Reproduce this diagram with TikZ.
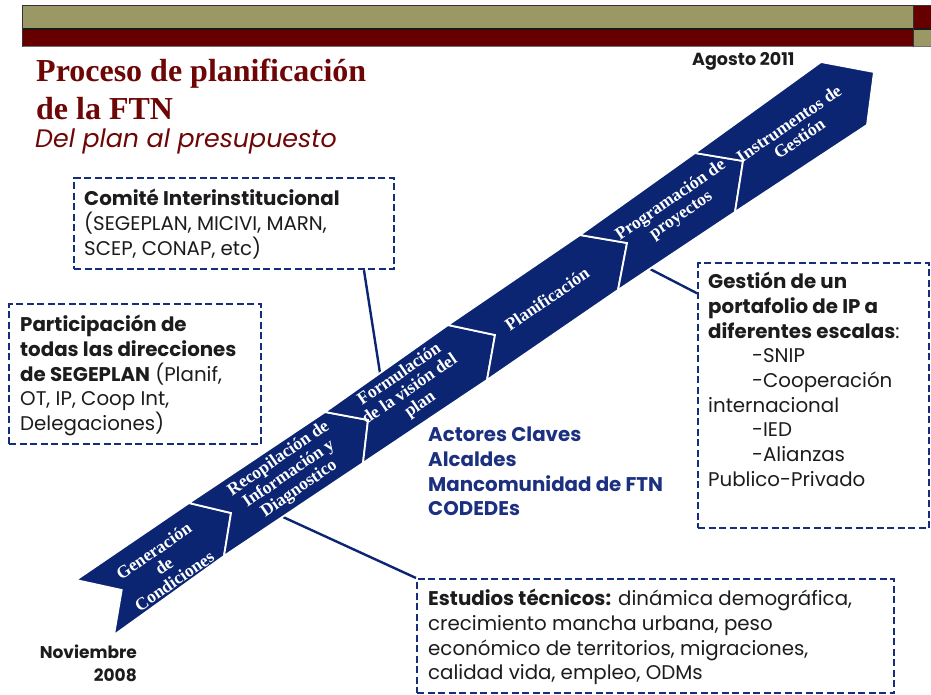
\documentclass[tikz,border=0pt]{standalone}
\usepackage{fontspec}
\setmainfont{Liberation Serif}
\newfontfamily\gothic{Poppins}
\usetikzlibrary{calc}
\definecolor{navy}{RGB}{11,37,115}
\definecolor{boxnavy}{RGB}{20,45,125}
\definecolor{actnavy}{RGB}{28,48,128}
\definecolor{titlered}{RGB}{110,6,6}
\definecolor{olivebar}{RGB}{154,153,102}
\definecolor{redbar}{RGB}{102,0,0}
\definecolor{textgray}{RGB}{28,28,28}
\begin{document}
\begin{tikzpicture}[x=1pt,y=-1pt,
  chev/.style={fill=navy, draw=white, line width=1.8pt, line join=miter},
  chevtext/.style={text=white, font=\bfseries\fontsize{17.6}{18.2}\selectfont, align=center, rotate=34.5, inner sep=0},
  dbox/.style={draw=boxnavy, line width=2.2pt, dash pattern=on 7pt off 3.5pt, inner sep=0, anchor=north west},
  btext/.style={font=\gothic\fontsize{19.8}{24.7}\selectfont, align=left, anchor=north west, inner sep=0, text=textgray},
  conn/.style={draw=navy, line width=2.4pt}]
\useasboundingbox (0,0) rectangle (931,695);
\fill[white] (0,0) rectangle (931,695);
% top bars
\fill[olivebar] (22,6) rectangle (913,29);
\fill[redbar] (22,29) rectangle (913,46);
\fill[redbar] (913,6) rectangle (931,29);
\fill[olivebar] (913,29) rectangle (931,46);
\draw[black!80, line width=1pt] (22,5.5) -- (931,5.5);
\draw[black!90, line width=1.6pt] (22,29) -- (931,29);
\draw[black!55, line width=1pt] (22,46.5) -- (931,46.5);
\draw[black!80, line width=1pt] (22,5) -- (22,47);
\draw[black!80, line width=1pt] (913.5,5) -- (913.5,47);
% titles
\node[font=\bfseries\fontsize{32}{37}\selectfont, text=titlered, anchor=base west, inner sep=0] (title1) at (36,82) {Proceso de planificación};
\node[font=\bfseries\fontsize{32}{37}\selectfont, text=titlered, anchor=base west, inner sep=0] (title2) at (36,120) {de la FTN};
\node[font=\gothic\itshape\fontsize{25.3}{28}\selectfont, text=titlered, anchor=base west, inner sep=0] (subtitle) at (35,148) {Del plan al presupuesto};
% chevron coordinates
\coordinate (T0) at (76,580);  \coordinate (B0) at (114,635); \coordinate (P0) at (121.7,590);
\coordinate (T1) at (189,503); \coordinate (B1) at (224,556); \coordinate (P1) at (231,513);
\coordinate (T2) at (325,412); \coordinate (B2) at (363,463); \coordinate (P2) at (368,420);
\coordinate (T3) at (448,325); \coordinate (B3) at (487,380); \coordinate (P3) at (495,335);
\coordinate (T4) at (580,235); \coordinate (B4) at (618,290); \coordinate (P4) at (627,243);
\coordinate (T5) at (695,153); \coordinate (B5) at (735,212); \coordinate (P5) at (743,161);
\coordinate (T6) at (821,62);  \coordinate (B6) at (867,125); \coordinate (P6) at (874,72);
% boxes
\node[dbox, minimum width=320pt, minimum height=91pt] (comite) at (73,177) {};
\node[dbox, minimum width=252pt, minimum height=140pt] (participa) at (8,303) {};
\node[dbox, minimum width=231pt, minimum height=265pt] (gestion) at (697,262) {};
\node[dbox, minimum width=477pt, minimum height=114pt] (estudios) at (416,578) {};
% connector endpoints on the arrow
\coordinate (c3) at (380,373);
\coordinate (c5) at (650,269);
\coordinate (c2) at (283,517);
\draw[conn] ($(comite.south west)!0.903!(comite.south east)$) -- (c3);
\draw[conn] ($(gestion.north west)!0.117!(gestion.south west)$) -- (c5);
\draw[conn] (estudios.north west) -- (c2);
% chevrons
\draw[chev] (T0) -- (T1) -- (P1) -- (B1) -- (B0) -- (P0) -- cycle;
\draw[chev] (T1) -- (T2) -- (P2) -- (B2) -- (B1) -- (P1) -- cycle;
\draw[chev] (T2) -- (T3) -- (P3) -- (B3) -- (B2) -- (P2) -- cycle;
\draw[chev] (T3) -- (T4) -- (P4) -- (B4) -- (B3) -- (P3) -- cycle;
\draw[chev] (T4) -- (T5) -- (P5) -- (B5) -- (B4) -- (P4) -- cycle;
\draw[chev] (T5) -- (T6) -- (P6) -- (B6) -- (B5) -- (P5) -- cycle;
\node[chevtext] (ch1) at (164,566) {Generación\\de\\Condiciones};
\node[chevtext] (ch2) at (289,474) {Recopilación de\\Información y\\Diagnostico};
\node[chevtext] (ch3) at (410,390) {Formulación\\de la visión del\\plan};
\node[chevtext] (ch4) at (547,299) {Planificación};
\node[chevtext] (ch5) at (676,208) {Programación de\\proyectos};
\node[chevtext] (ch6) at (794,131) {Instrumentos de\\Gestión};
% box texts
\node[btext] (comitetxt) at (84,189) {\textbf{Comité Interinstitucional}\\(SEGEPLAN, MICIVI, MARN,\\SCEP, CONAP, etc)};
\node[btext] (participatxt) at (20,315) {\textbf{Participación de}\\\textbf{todas las direcciones}\\\textbf{de SEGEPLAN} (Planif,\\OT, IP, Coop Int,\\Delegaciones)};
\node[btext] (gestiontxt) at (708,272) {\textbf{Gestión de un}\\\textbf{portafolio de IP a}\\\textbf{diferentes escalas}:\\\hspace*{44pt}-SNIP\\\hspace*{44pt}-Cooperación\\internacional\\\hspace*{44pt}-IED\\\hspace*{44pt}-Alianzas\\Publico-Privado};
\node[btext] (estudiostxt) at (428,589) {\textbf{Estudios técnicos:} dinámica demográfica,\\crecimiento mancha urbana, peso\\económico de territorios, migraciones,\\calidad vida, empleo, ODMs};
\node[btext, text=actnavy, font=\gothic\bfseries\fontsize{19.8}{24.7}\selectfont] (actores) at (428,427) {Actores Claves\\Alcaldes\\Mancomunidad de FTN\\CODEDEs};
\node[font=\gothic\bfseries\fontsize{17.5}{18}\selectfont, anchor=west, inner sep=0, text=textgray] (agosto) at (692,61) {Agosto 2011};
\node[font=\gothic\bfseries\fontsize{17}{23}\selectfont, align=right, anchor=north east, inner sep=0, text=textgray] (noviembre) at (137,645) {Noviembre\\2008};
\end{tikzpicture}
\end{document}
